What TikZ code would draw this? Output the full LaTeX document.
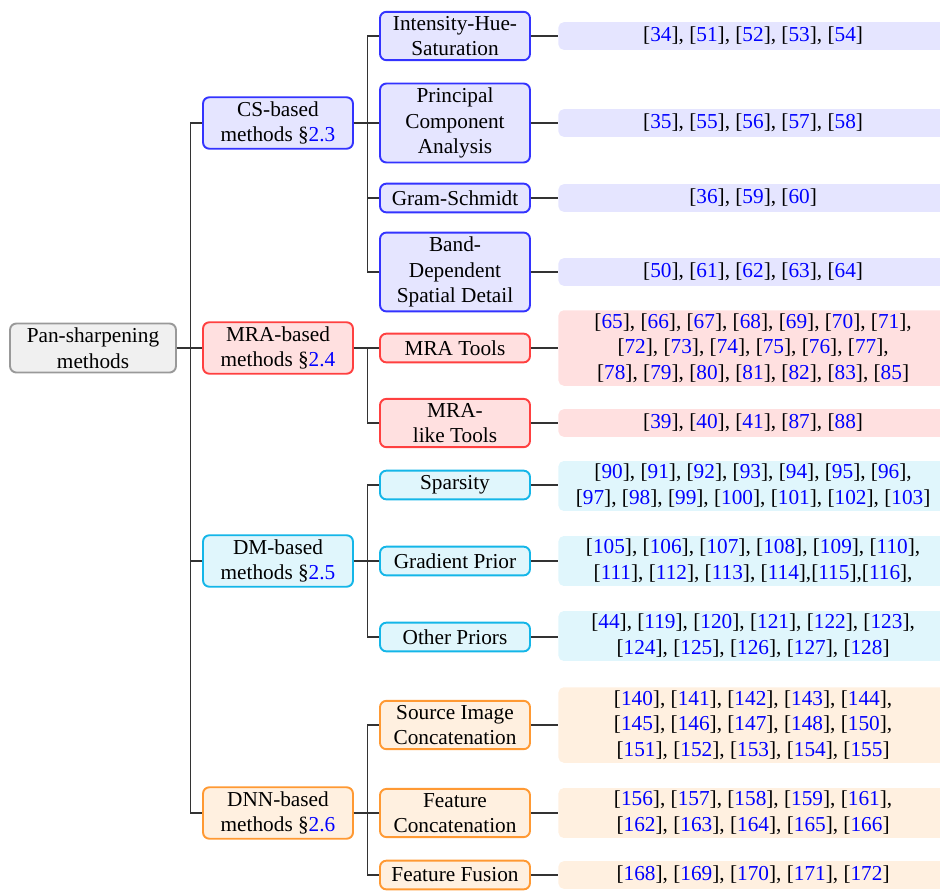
\documentclass[tikz,border=0pt]{standalone}
\usepackage{fontspec}
\setmainfont{Liberation Serif}
\definecolor{dmcolor}{RGB}{20,182,232}
\newcommand{\rf}[1]{[\textcolor{blue}{#1}]}
\newcommand{\secnum}[1]{\S\textcolor{blue}{#1}}

\begin{document}
\begin{tikzpicture}[
        x=0.47pt, y=-0.47pt,
        box/.style={draw, rectangle, rounded corners=3pt, line width=0.9pt, align=center,
            inner sep=2pt, minimum width=70.5pt, minimum height=13.5pt},
        rootbox/.style={box, draw=gray!80, fill=gray!12, minimum width=78pt},% whole tree
        csbox/.style={box, draw=blue!80, fill=blue!10},% CS branch
        mrabox/.style={box, draw=red!75, fill=red!12},% MRA branch
        dmbox/.style={box, draw=dmcolor, fill=dmcolor!13},% DM branch
        dnnbox/.style={box, draw=orange!80, fill=orange!12},% DNN branch
        refs/.style={rectangle, rounded corners=2.5pt, fill=#1, align=center, anchor=west,
            inner sep=1.5pt, minimum width=183pt, minimum height=13pt},% list of citations
        link/.style={draw=black!80, line width=0.5pt},
    ]
        \useasboundingbox (0,0) rectangle (940,890);

        \node [rootbox] (root) at (93,348) {Pan-sharpening\\methods};

        \node [csbox] (csBased) at (278,123) {CS-based\\methods \secnum{2.3}};
        \node [mrabox] (mraBased) at (278,348) {MRA-based\\methods \secnum{2.4}};
        \node [dmbox] (dmBased) at (278,561) {DM-based\\methods \secnum{2.5}};
        \node [dnnbox] (dnnBased) at (278,813) {DNN-based\\methods \secnum{2.6}};

        \node [csbox] (ihs) at (455,36) {Intensity-Hue-\\Saturation};
        \node [csbox] (pca) at (455,123) {Principal\\Component\\Analysis};
        \node [csbox] (gramSchmidt) at (455,198) {Gram-Schmidt};
        \node [csbox] (bdsd) at (455,272) {Band-\\Dependent\\Spatial Detail};
        \node [mrabox] (mraTools) at (455,348) {MRA Tools};
        \node [mrabox] (mraLike) at (455,423) {MRA-\\like Tools};
        \node [dmbox] (sparsity) at (455,485) {Sparsity};
        \node [dmbox] (gradPrior) at (455,561) {Gradient Prior};
        \node [dmbox] (otherPriors) at (455,637) {Other Priors};
        \node [dnnbox] (srcConcat) at (455,725) {Source Image\\Concatenation};
        \node [dnnbox] (featConcat) at (455,813) {Feature\\Concatenation};
        \node [dnnbox] (featFusion) at (455,875) {Feature Fusion};

        \node [refs=blue!10] (ihsRefs) at (558,36) {\rf{34}, \rf{51}, \rf{52}, \rf{53}, \rf{54}};
        \node [refs=blue!10] (pcaRefs) at (558,123) {\rf{35}, \rf{55}, \rf{56}, \rf{57}, \rf{58}};
        \node [refs=blue!10] (gramSchmidtRefs) at (558,198) {\rf{36}, \rf{59}, \rf{60}};
        \node [refs=blue!10] (bdsdRefs) at (558,272) {\rf{50}, \rf{61}, \rf{62}, \rf{63}, \rf{64}};
        \node [refs=red!12] (mraToolsRefs) at (558,348) {\rf{65}, \rf{66}, \rf{67}, \rf{68}, \rf{69}, \rf{70}, \rf{71},\\
            \rf{72}, \rf{73}, \rf{74}, \rf{75}, \rf{76}, \rf{77},\\
            \rf{78}, \rf{79}, \rf{80}, \rf{81}, \rf{82}, \rf{83}, \rf{85}};
        \node [refs=red!12] (mraLikeRefs) at (558,423) {\rf{39}, \rf{40}, \rf{41}, \rf{87}, \rf{88}};
        \node [refs=dmcolor!13] (sparsityRefs) at (558,486) {\rf{90}, \rf{91}, \rf{92}, \rf{93}, \rf{94}, \rf{95}, \rf{96},\\
            \rf{97}, \rf{98}, \rf{99}, \rf{100}, \rf{101}, \rf{102}, \rf{103}};
        \node [refs=dmcolor!13] (gradPriorRefs) at (558,561) {\rf{105}, \rf{106}, \rf{107}, \rf{108}, \rf{109}, \rf{110},\\
            \rf{111}, \rf{112}, \rf{113}, \rf{114},\rf{115},\rf{116},};
        \node [refs=dmcolor!13] (otherPriorsRefs) at (558,636) {\rf{44}, \rf{119}, \rf{120}, \rf{121}, \rf{122}, \rf{123},\\
            \rf{124}, \rf{125}, \rf{126}, \rf{127}, \rf{128}};
        \node [refs=orange!12] (srcConcatRefs) at (558,725) {\rf{140}, \rf{141}, \rf{142}, \rf{143}, \rf{144},\\
            \rf{145}, \rf{146}, \rf{147}, \rf{148}, \rf{150},\\
            \rf{151}, \rf{152}, \rf{153}, \rf{154}, \rf{155}};
        \node [refs=orange!12] (featConcatRefs) at (558,813) {\rf{156}, \rf{157}, \rf{158}, \rf{159}, \rf{161},\\
            \rf{162}, \rf{163}, \rf{164}, \rf{165}, \rf{166}};
        \node [refs=orange!12] (featFusionRefs) at (558,875) {\rf{168}, \rf{169}, \rf{170}, \rf{171}, \rf{172}};

        % forks between levels
        \foreach \parent/\child in {root/csBased, root/mraBased, root/dmBased, root/dnnBased,
                csBased/ihs, csBased/pca, csBased/gramSchmidt, csBased/bdsd,
                mraBased/mraTools, mraBased/mraLike,
                dmBased/sparsity, dmBased/gradPrior, dmBased/otherPriors,
                dnnBased/srcConcat, dnnBased/featConcat, dnnBased/featFusion}
            \draw [link] (\parent.east) -- ++(14,0) |- (\child.west);

        % leaves to their citations
        \foreach \child in {ihs, pca, gramSchmidt, bdsd, mraTools, mraLike, sparsity, gradPrior,
                otherPriors, srcConcat, featConcat, featFusion}
            \draw [link] (\child.east) -- (\child.east -| \child Refs.west);

    \end{tikzpicture}
\end{document}
